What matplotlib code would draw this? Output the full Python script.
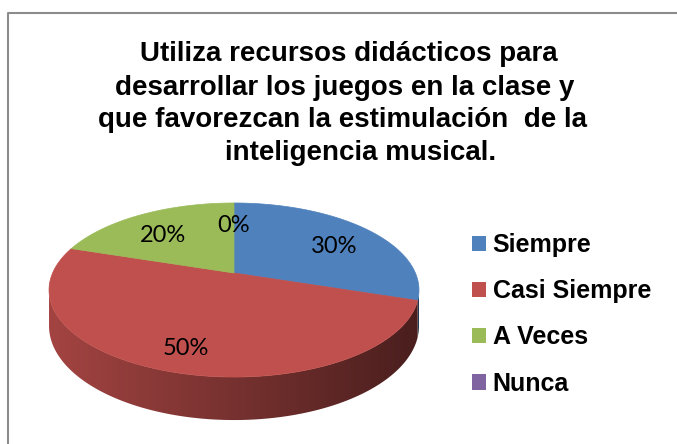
import numpy as np
import matplotlib
matplotlib.use("Agg")
import matplotlib.pyplot as plt
from matplotlib.patches import Polygon, Patch
from matplotlib.lines import Line2D

# data
categorias = ['Siempre', 'Casi Siempre', 'A Veces', 'Nunca']
valores = [30, 50, 20, 0]
colores = ['#4F81BD', '#C0504D', '#9BBB59', '#8064A2']
titulo = ["Utiliza recursos didácticos para",
          "desarrollar los juegos en la clase y",
          "que favorezcan la estimulación  de la",
          "inteligencia musical."]

fig = plt.figure(figsize=(6.77, 4.44), dpi=100)
ax = fig.add_axes([0, 0, 1, 1])
ax.set_xlim(0, 677)
ax.set_ylim(444, 0)
ax.axis('off')

# chart frame (only left and top edges are visible in the crop)
ax.add_line(Line2D([8, 8, 677], [444, 13, 13], color='#8c8c8c', lw=1.5))

# 3d pie drawn with a small perspective (far half looks smaller)
cx, vy = 234, 273          # where the slices meet
A, B = 181.4, 83.7         # horizontal / vertical radius
p = 0.1955                 # perspective strength
H = 34.6                   # thickness


def proj(theta, r=1.0, drop=0.0):
    t = np.radians(theta)
    X, Y = r * np.cos(t), r * np.sin(t)
    den = 1 + p * Y
    return cx + A * X / den, vy - B * Y / den + drop / den


total = sum(valores)
start = 90.0
slices = []
for v in valores:
    span = 360.0 * v / total
    slices.append((start - span, start))
    start -= span

# side walls, only the front part is visible
sil = np.degrees(np.arcsin(p))
front = (180 + sil, 360 - sil)
x0, x1 = cx - A * 1.02, cx + A * 1.02
xs_img = np.linspace(x0, x1, 400)
fac = 0.85 - 0.47 * (xs_img - x0) / (x1 - x0)
for (t1, t2), col in zip(slices, colores):
    if t2 - t1 <= 0:
        continue
    for off in (-360, 0, 360):
        s1, s2 = max(t1 + off, front[0]), min(t2 + off, front[1])
        if s2 <= s1:
            continue
        th = np.linspace(s1, s2, 120)
        top = [proj(t) for t in th]
        bot = [proj(t, drop=H) for t in th[::-1]]
        poly = Polygon(top + bot, closed=True, facecolor='none', edgecolor='none')
        ax.add_patch(poly)
        rgb = np.array(matplotlib.colors.to_rgb(col))
        img = (fac[:, None] * rgb[None, :])[None, :, :]
        im = ax.imshow(img, extent=(x0, x1, vy + 160, vy - 10),
                       aspect='auto', interpolation='bilinear', zorder=1)
        im.set_clip_path(poly)

# top faces
for (t1, t2), col in zip(slices, colores):
    if t2 - t1 <= 0:
        continue
    th = np.linspace(t2, t1, 200)
    pts = [(cx, vy)] + [proj(t) for t in th]
    ax.add_patch(Polygon(pts, closed=True, facecolor=col, edgecolor=col,
                         lw=0.5, zorder=2))

# percentage labels
for (t1, t2), v in zip(slices, valores):
    x, y = proj((t1 + t2) / 2, r=0.74)
    ax.text(x, y + 7, f"{v}%", ha='center', va='center', fontsize=17,
            family='Lato', color='black', zorder=3)

# title, line by line (centred like the original)
for linea, xc, yb in zip(titulo, [349, 345, 343, 361], [61, 95, 127, 160]):
    ax.text(xc, yb, linea, ha='center', va='baseline', fontsize=20,
            fontweight='bold', family='Liberation Sans')

# legend
handles = [Patch(facecolor=c, edgecolor='none') for c in colores]
ax.legend(handles, categorias, loc='center left', bbox_to_anchor=(0.682, 0.292),
          frameon=False, handlelength=0.56, handleheight=0.56, handletextpad=0.28,
          labelspacing=0.89, borderaxespad=0,
          prop={'family': 'Liberation Sans', 'weight': 'bold', 'size': 18})

fig.savefig('out.png', dpi=100)
